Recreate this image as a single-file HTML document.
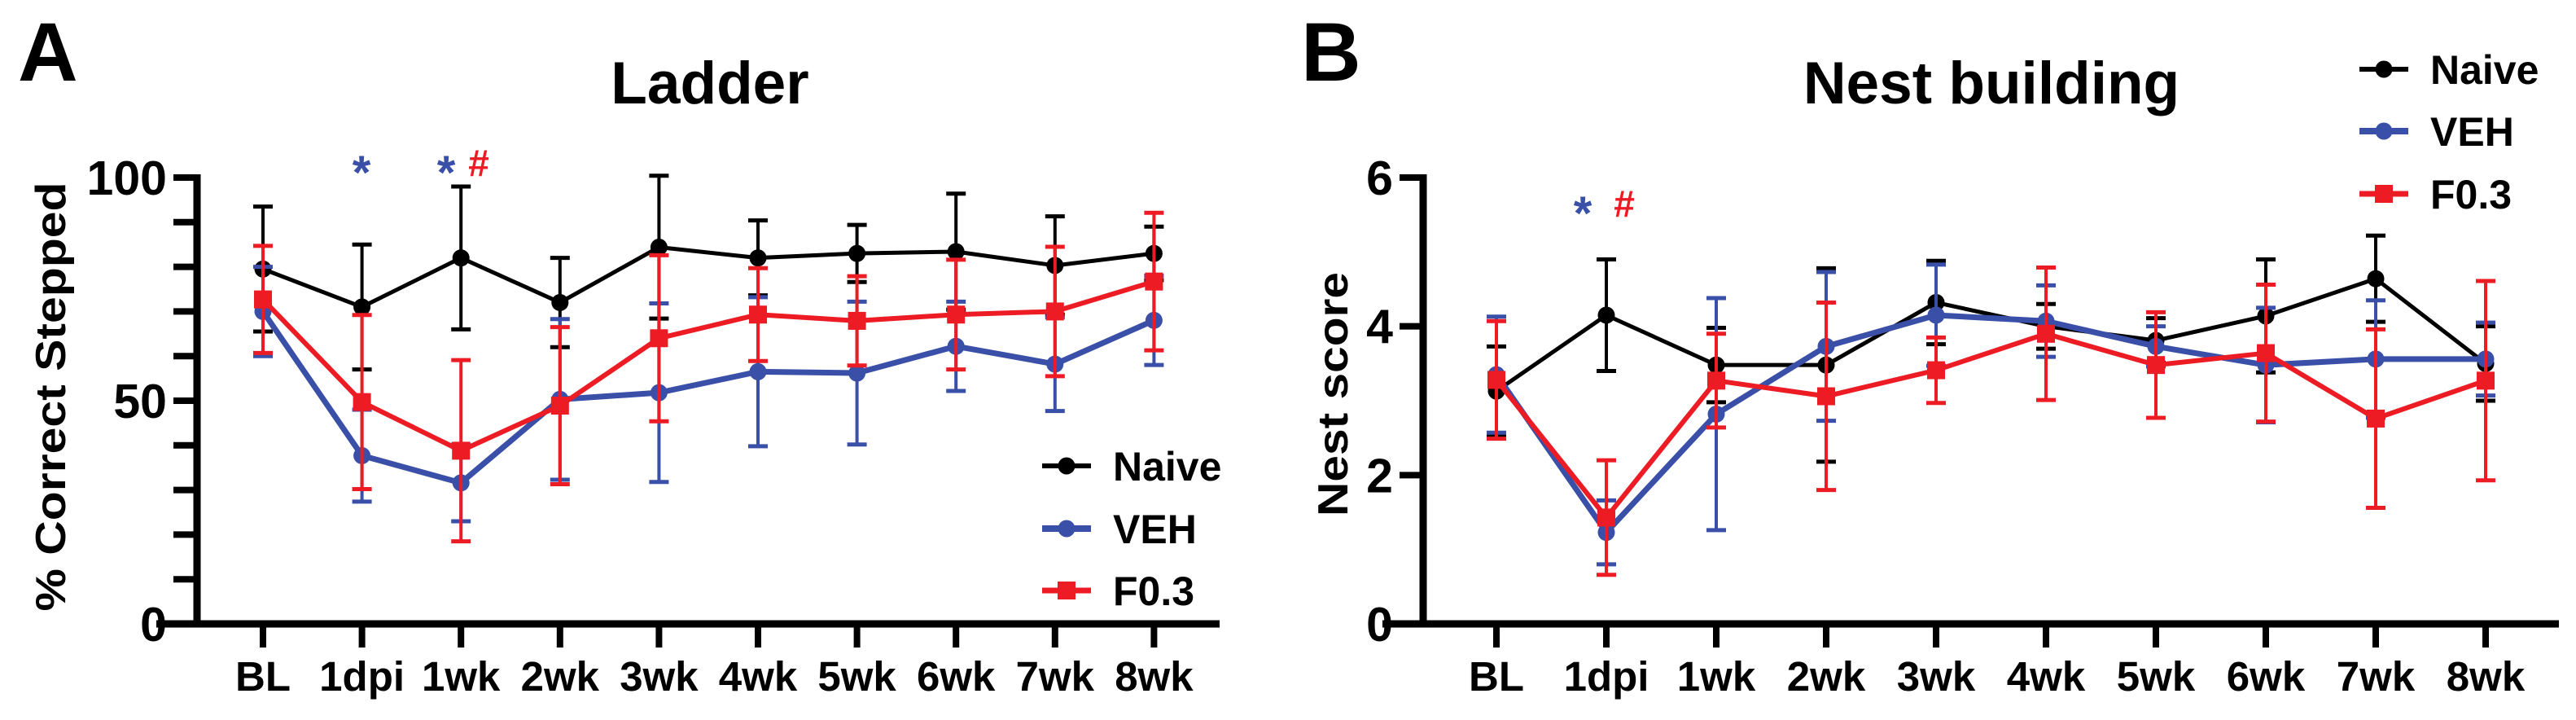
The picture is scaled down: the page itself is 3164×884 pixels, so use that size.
<!DOCTYPE html>
<html><head><meta charset="utf-8"><style>
html,body{margin:0;padding:0;background:#fff;}
svg{display:block;}
text{font-family:"Liberation Sans",Arial,sans-serif;font-weight:bold;}
</style></head><body>
<svg id="fig" width="3164" height="884" viewBox="0 0 3164 884" xmlns="http://www.w3.org/2000/svg"></svg>
<script>
const categories = ["BL","1dpi","1wk","2wk","3wk","4wk","5wk","6wk","7wk","8wk"];
// Panel A: Ladder (% correct stepped)
const ladderNaive = [79.5,71,82,72,84.4,82,83,83.4,80.3,83];
const ladderNaiveErr = [14,14,16,10,16,8.4,6.4,13,11,6];
const ladderVEH = [70,37.7,31.6,50.3,51.8,56.5,56.2,62.2,58.2,68];
const ladderVEHErr = [10,10.3,8.6,18,20,16.7,16,10,10.5,10];
const ladderF = [72.7,49.7,38.8,48.9,64,69.3,67.9,69.3,70,76.7];
const ladderFErr = [12,19.5,20.3,17.6,18.6,10.4,10,12.3,14.5,15.4];
const ladderTicks = [0,50,100];
// Panel B: Nest building
const nestNaive = [3.13,4.15,3.48,3.48,4.32,4.0,3.81,4.14,4.64,3.5];
const nestNaiveErr = [0.6,0.75,0.5,1.3,0.56,0.3,0.3,0.76,0.58,0.5];
const nestVEH = [3.35,1.23,2.82,3.73,4.15,4.07,3.73,3.48,3.56,3.56];
const nestVEHErr = [0.78,0.43,1.56,1.0,0.68,0.48,0.27,0.77,0.79,0.49];
const nestF = [3.28,1.43,3.27,3.06,3.41,3.9,3.48,3.64,2.76,3.27];
const nestFErr = [0.79,0.77,0.63,1.26,0.44,0.89,0.71,0.92,1.2,1.34];
const nestTicks = [0,2,4,6];

const BLUE="#3a4fa8", RED="#ed1c24", BLACK="#000";
const NS="http://www.w3.org/2000/svg";
const svg=document.getElementById('fig');
function mk(tag,attrs,parent){const e=document.createElementNS(NS,tag);for(const k in attrs)e.setAttribute(k,attrs[k]);(parent||svg).appendChild(e);return e;}
function txt(s,attrs,parent){const e=mk('text',attrs,parent);e.textContent=s;return e;}

function panel(cfg){
  const g=mk('g',{});
  
  
  const x0=cfg.axisX, yTop=218, yBot=766, ymax=cfg.ymax;
  const xs=i=>cfg.firstX+i*cfg.step;
  const ys=v=>yBot-(v/ymax)*(yBot-yTop);
  // letter
  const L=txt(cfg.letter,{x:cfg.letterX,y:99,'font-size':102},g);
  
  const T=txt(cfg.title,{x:cfg.titleX,y:127,'font-size':73,'text-anchor':'middle'},g);
  
  const YL=txt(cfg.ylabel,{x:0,y:0,'font-size':52,'text-anchor':'middle',textLength:cfg.ylabelLen,lengthAdjust:'spacingAndGlyphs',transform:`translate(${cfg.ylabelX},${cfg.ylabelY}) rotate(-90)`},g);
  
  // axes
  const ax=mk('g',{},g);
  
  mk('line',{x1:x0,y1:yTop-4,x2:x0,y2:yBot+4,stroke:BLACK,'stroke-width':9},ax);
  mk('line',{x1:x0-50,y1:yBot,x2:cfg.axisEnd,y2:yBot,stroke:BLACK,'stroke-width':9},ax);
  // y ticks
  for(let v=0;v<=ymax+1e-9;v+=cfg.minor){
    if(v===0) continue;
    mk('line',{x1:x0-29,y1:ys(v),x2:x0,y2:ys(v),stroke:BLACK,'stroke-width':8},ax);
  }
  cfg.ticks.forEach(v=>{
    const t=txt(String(v),{x:x0-37,y:ys(v)+21,'font-size':59,'text-anchor':'end'},ax);
    
  });
  categories.forEach((c,i)=>{
    mk('line',{x1:xs(i),y1:yBot,x2:xs(i),y2:yBot+29,stroke:BLACK,'stroke-width':8},ax);
    const t=txt(c,{x:xs(i),y:848,'font-size':51,'text-anchor':'middle'},ax);
    
  });
  // series
  cfg.series.forEach(s=>{
    const sg=mk('g',{},g);
    
    
    s.vals.forEach((v,i)=>{
      const x=xs(i);
      mk('line',{x1:x,y1:ys(v-s.err[i]),x2:x,y2:ys(v+s.err[i]),stroke:s.color,'stroke-width':4},sg);
      mk('line',{x1:x-12,y1:ys(v+s.err[i]),x2:x+12,y2:ys(v+s.err[i]),stroke:s.color,'stroke-width':5},sg);
      mk('line',{x1:x-12,y1:ys(v-s.err[i]),x2:x+12,y2:ys(v-s.err[i]),stroke:s.color,'stroke-width':5},sg);
    });
    mk('polyline',{points:s.vals.map((v,i)=>xs(i)+','+ys(v)).join(' '),fill:'none',stroke:s.color,'stroke-width':s.lw,'stroke-linejoin':'round'},sg);
    s.vals.forEach((v,i)=>{
      let m;
      if(s.shape==='sq') m=mk('rect',{x:xs(i)-11,y:ys(v)-11,width:22,height:22,fill:s.color},sg);
      else m=mk('circle',{cx:xs(i),cy:ys(v),r:10.5,fill:s.color},sg);
      
      
    });
  });
  // legend
  const lg=mk('g',{},g);
  
  cfg.series.forEach((s,k)=>{
    const y=cfg.legY[k];
    const e=mk('g',{},lg);
    
    mk('line',{x1:cfg.legX,y1:y,x2:cfg.legX+60,y2:y,stroke:s.color,'stroke-width':s.lw+1},e);
    if(s.shape==='sq') mk('rect',{x:cfg.legX+19,y:y-11,width:22,height:22,fill:s.color},e);
    else mk('circle',{cx:cfg.legX+30,cy:y,r:10.5,fill:s.color},e);
    txt(s.label,{x:cfg.legX+87,y:y+18,'font-size':50},e);
  });
  // annotations
  cfg.ann.forEach(a=>{
    const t=txt(a.s,{x:a.x,y:a.y,'font-size':a.s==='*'?58:46,fill:a.c,'text-anchor':'middle'},g);
    
    
  });
}

panel({name:'ladder',letter:'A',letterX:22,title:'Ladder',titleX:872,ylabel:'% Correct Stepped',ylabelLen:527,ylabelX:80,ylabelY:487,
  axisX:242,axisEnd:1498,firstX:323,step:121.6,ymax:100,minor:10,ticks:ladderTicks,
  series:[{key:'naive',label:'Naive',vals:ladderNaive,err:ladderNaiveErr,color:BLACK,lw:5,shape:'c'},
          {key:'veh',label:'VEH',vals:ladderVEH,err:ladderVEHErr,color:BLUE,lw:7,shape:'c'},
          {key:'f03',label:'F0.3',vals:ladderF,err:ladderFErr,color:RED,lw:6,shape:'sq'}],
  legX:1280,legY:572+0,ann:[{s:'*',x:444,y:232,c:BLUE},{s:'*',x:548,y:232,c:BLUE},{s:'#',x:588,y:216,c:RED}],
  legY:[572,649,725]});
panel({name:'nest',letter:'B',letterX:1598,title:'Nest building',titleX:2446,ylabel:'Nest score',ylabelLen:300,ylabelX:1655,ylabelY:484,
  axisX:1748,axisEnd:3143,firstX:1838,step:135,ymax:6,minor:2,ticks:nestTicks,
  series:[{key:'naive',label:'Naive',vals:nestNaive,err:nestNaiveErr,color:BLACK,lw:5,shape:'c'},
          {key:'veh',label:'VEH',vals:nestVEH,err:nestVEHErr,color:BLUE,lw:7,shape:'c'},
          {key:'f03',label:'F0.3',vals:nestF,err:nestFErr,color:RED,lw:6,shape:'sq'}],
  legX:2898,legY:[85,161,238],ann:[{s:'*',x:1944,y:282,c:BLUE},{s:'#',x:1995,y:266,c:RED}]});
</script>
</body></html>
